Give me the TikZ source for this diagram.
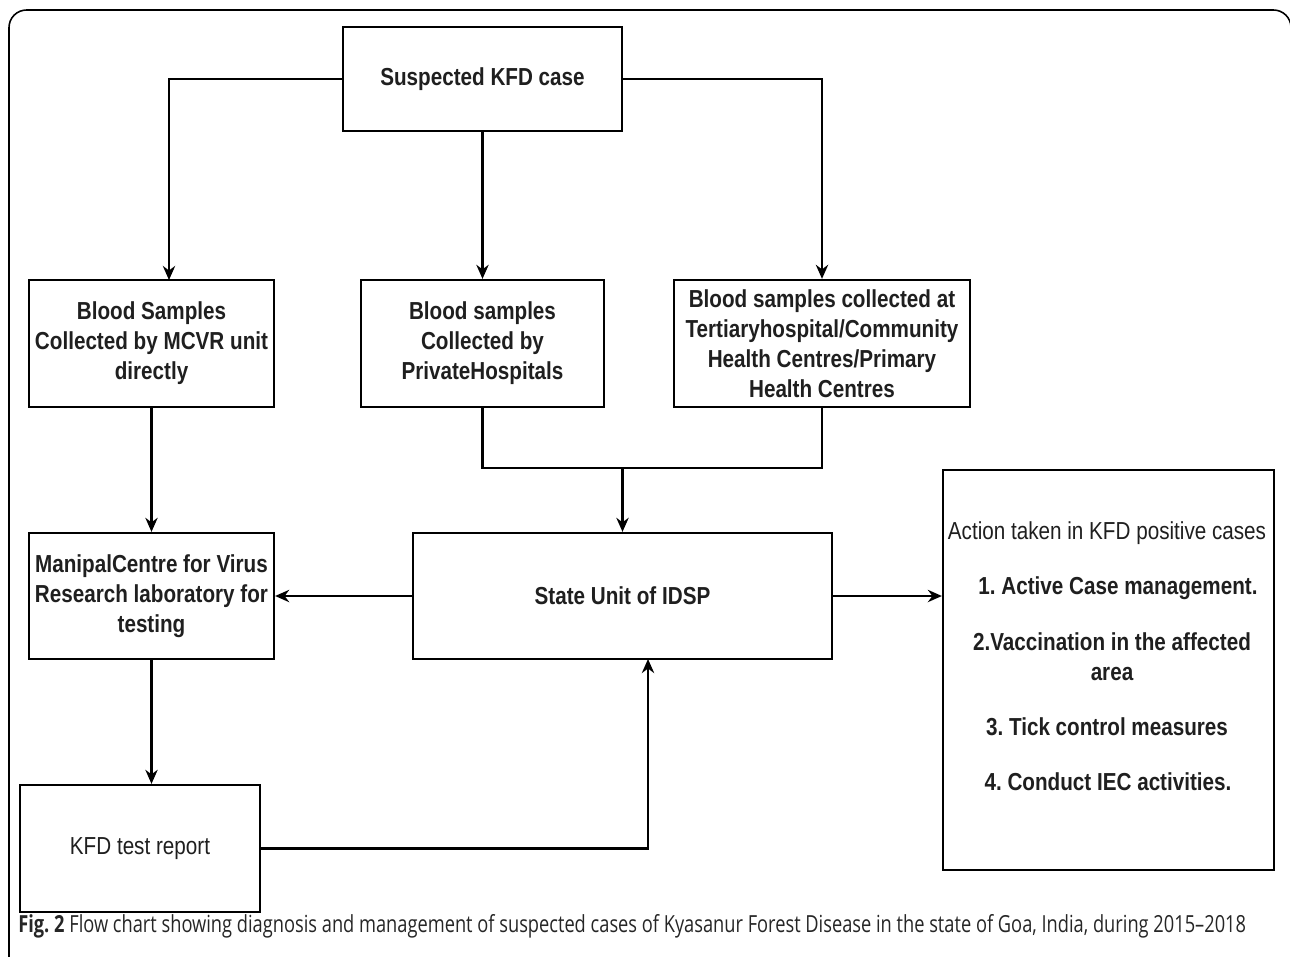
\documentclass[tikz,border=0pt]{standalone}
\usepackage{fontspec}
\setmainfont{Liberation Sans}
\newfontfamily\nar[FakeStretch=0.84]{Liberation Sans}
\newfontfamily\capfont[FakeStretch=0.775]{Open Sans}
\usetikzlibrary{arrows.meta}
\tikzset{
  box/.style={draw, line width=1.3pt, rectangle, inner sep=0pt, align=center,
    text=black!88, font=\nar\bfseries\fontsize{14}{17}\selectfont},
  plain/.style={font=\nar\fontsize{14}{17}\selectfont},
  txt/.style={inner sep=0pt, align=center, text=black!88, font=\nar\bfseries\fontsize{14}{17}\selectfont},
  ln/.style={line width=1.3pt},
  arr/.style={line width=1.3pt, -{Stealth[length=8pt,width=7pt]}},
}
\begin{document}
\frenchspacing
\begin{tikzpicture}[x=0.02cm,y=-0.02cm]
\useasboundingbox (0,0) rectangle (1290,956);
% outer frame
\draw[line width=0.9pt, rounded corners=10pt] (9,10) rectangle (1291,975);
% boxes
\node[box, minimum width=5.58cm, minimum height=2.08cm] (top) at (482.5,79) {Suspected KFD case};
\node[box, minimum width=4.9cm, minimum height=2.54cm] (b1) at (151.5,343.5) {Blood Samples\\Collected by MCVR unit\\directly};
\node[box, minimum width=4.86cm, minimum height=2.54cm] (b2) at (482.5,343.5) {Blood samples\\Collected by\\PrivateHospitals};
\node[box, minimum width=5.92cm, minimum height=2.54cm] (b3) at (822,343.5) {Blood samples collected at\\Tertiaryhospital/Community\\Health Centres/Primary\\Health Centres};
\node[box, minimum width=8.38cm, minimum height=2.52cm] (state) at (622.5,596) {State Unit of IDSP};
\node[box, minimum width=4.9cm, minimum height=2.52cm] (man) at (151.5,596) {ManipalCentre for Virus\\Research laboratory for\\testing};
\node[box, plain, minimum width=4.8cm, minimum height=2.54cm] (rep) at (140,848.5) {KFD test report};
\node[box, minimum width=6.62cm, minimum height=8.0cm] (act) at (1108.5,670) {};
% action text
\node[txt, plain] (a0) at (1107,533) {Action taken in KFD positive cases};
\node[txt] (a1) at (1118,588) {1. Active Case management.};
\node[txt] (a2) at (1112,657) {2.Vaccination in the affected\\area};
\node[txt] (a3) at (1107,727) {3. Tick control measures};
\node[txt] (a4) at (1108,782) {4. Conduct IEC activities.};
% junction coordinates
\coordinate (b1in) at (169,280);
\coordinate (j1) at (622.5,468);
\coordinate (sin) at (648,659);
% connectors
\draw[arr] (top.west) -| (b1in);
\draw[arr] (top.east) -| (b3.north);
\draw[arr] (top.south) -- (b2.north);
\draw[ln] (b2.south) |- (j1) -| (b3.south);
\draw[arr] (j1) -- (state.north);
\draw[arr] (b1.south) -- (man.north);
\draw[arr] (state.west) -- (man.east);
\draw[arr] (man.south) -- (man.south |- rep.north);
\draw[arr] (rep.east) -| (sin);
\draw[arr] (state.east) -- (state.east -| act.west);
% caption
\node[anchor=base west, inner sep=0pt, text=black!85, font=\capfont\fontsize{13.4}{16}\selectfont] (cap) at (18,932)
  {\textbf{Fig. 2} Flow chart showing diagnosis and management of suspected cases of Kyasanur Forest Disease in the state of Goa, India, during 2015–2018};
\end{tikzpicture}
\end{document}
